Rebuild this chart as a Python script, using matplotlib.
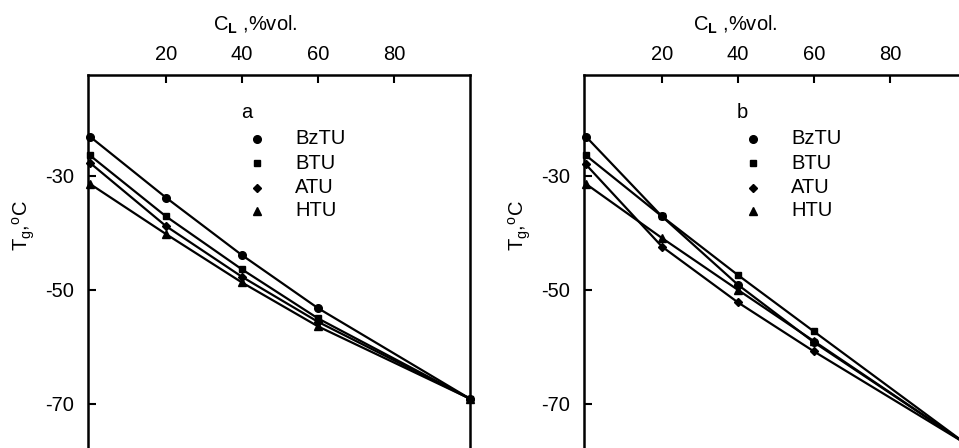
import matplotlib
matplotlib.use("Agg")
import matplotlib.pyplot as plt

plt.rcParams['font.family'] = ['Liberation Sans', 'DejaVu Sans']
plt.rcParams['mathtext.fontset'] = 'custom'
plt.rcParams['mathtext.rm'] = 'Liberation Sans'
plt.rcParams['mathtext.bf'] = 'Liberation Sans:bold'
plt.rcParams['mathtext.it'] = 'Liberation Sans:italic'
plt.rcParams['axes.unicode_minus'] = False

# Data
conc = [0, 20, 40, 60, 100]
series_names = ["BzTU", "BTU", "ATU", "HTU"]
markers = ["o", "s", "D", "^"]
marker_sizes = [5.5, 3.8, 4.0, 5.5]

panel_a = {
    "BzTU": [-23.1, -33.8, -43.9, -53.2, -69.1],
    "BTU":  [-26.4, -37.1, -46.4, -55.0, -69.1],
    "ATU":  [-27.7, -38.8, -47.7, -55.6, -69.1],
    "HTU":  [-31.4, -40.2, -48.7, -56.4, -69.1],
}
panel_b = {
    "BzTU": [-23.1, -37.1, -49.1, -59.2, -77.0],
    "BTU":  [-26.4, -37.1, -47.4, -57.3, -77.0],
    "ATU":  [-28.0, -42.4, -52.2, -60.8, -77.0],
    "HTU":  [-31.4, -40.9, -50.0, -59.0, -77.0],
}
xticks = [20, 40, 60, 80]
yticks = [-30, -50, -70]

W, H = 959, 448
fig = plt.figure(figsize=(W / 100, H / 100), dpi=100)

def px_axes(left, right, top, bottom):
    return [left / W, 1 - bottom / H, (right - left) / W, (bottom - top) / H]

axA = fig.add_axes(px_axes(88, 470, 75, 470))
axB = fig.add_axes(px_axes(584, 966, 75, 470))

def style(ax, data, letter, xlab_x):
    for name, m, ms in zip(series_names, markers, marker_sizes):
        ax.plot(conc, data[name], color='black', lw=1.6, marker=m, ms=ms,
                mfc='black', mec='black', clip_on=False, zorder=3)
    ax.set_xlim(-0.5, 100)
    ax.set_ylim(-81.6, -12.3)
    ax.set_xticks(xticks)
    ax.set_yticks(yticks)
    ax.xaxis.tick_top()
    ax.xaxis.set_label_position('top')
    ax.tick_params(axis='both', direction='in', length=5.5, width=1.5,
                   labelsize=14.5, pad=8)
    ax.tick_params(axis='y', pad=10)
    for sp in ax.spines.values():
        sp.set_linewidth(1.8)
    ax.set_xlabel(r'C$_{\mathbf{L}}$ ,%vol.', fontsize=14.5)
    ax.xaxis.set_label_coords(xlab_x, 1.127)
    ax.xaxis.label.set_va('center')
    ax.set_ylabel(r'T$_\mathrm{g}$,$^\mathrm{o}$C', fontsize=14.5)
    ax.yaxis.set_label_coords(-0.168, 0.618)
    ax.yaxis.label.set_va('center')
    ax.text(0.415, 0.906, letter, transform=ax.transAxes, fontsize=14.5,
            ha='center', va='center')
    rows = [0.838, 0.777, 0.714, 0.656]
    for name, m, ms, yy in zip(series_names, markers, marker_sizes, rows):
        ax.plot([0.442], [yy], marker=m, ms=ms, color='black',
                transform=ax.transAxes, linestyle='none')
        ax.text(0.542, yy, name, transform=ax.transAxes, fontsize=14.5,
                ha='left', va='center')

style(axA, panel_a, 'a', 0.437)
style(axB, panel_b, 'b', 0.395)

fig.savefig("out.png", dpi=100)
